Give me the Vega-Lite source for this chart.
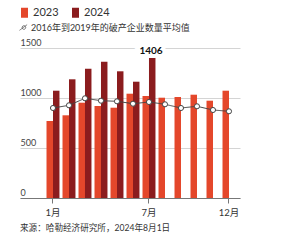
{
  "$schema": "https://vega.github.io/schema/vega-lite/v6.json",
  "autosize": {"type": "none"},
  "padding": {"left": 20, "top": 48, "right": 43, "bottom": 42},
  "width": 220,
  "height": 150,
  "background": "white",
  "config": {
    "view": {"stroke": null},
    "font": "Lato, 'Noto Sans CJK SC', sans-serif",
    "text": {"font": "Lato, 'Noto Sans CJK SC', sans-serif"}
  },
  "title": {
    "text": "来源：哈勒经济研究所，2024年8月1日",
    "orient": "bottom",
    "anchor": "start",
    "frame": "group",
    "offset": 7,
    "fontSize": 8.6,
    "fontWeight": "normal",
    "color": "#333333",
    "font": "Lato, 'Noto Sans CJK SC', sans-serif"
  },
  "datasets": {
    "bars": [
      {"month": "1月", "year": "2023", "value": 770},
      {"month": "1月", "year": "2024", "value": 1073},
      {"month": "2月", "year": "2023", "value": 827},
      {"month": "2月", "year": "2024", "value": 1187},
      {"month": "3月", "year": "2023", "value": 953},
      {"month": "3月", "year": "2024", "value": 1293},
      {"month": "4月", "year": "2023", "value": 920},
      {"month": "4月", "year": "2024", "value": 1363},
      {"month": "5月", "year": "2023", "value": 903},
      {"month": "5月", "year": "2024", "value": 1267},
      {"month": "6月", "year": "2023", "value": 1043},
      {"month": "6月", "year": "2024", "value": 1163},
      {"month": "7月", "year": "2023", "value": 1020},
      {"month": "7月", "year": "2024", "value": 1406},
      {"month": "8月", "year": "2023", "value": 1003},
      {"month": "9月", "year": "2023", "value": 1010},
      {"month": "10月", "year": "2023", "value": 1033},
      {"month": "11月", "year": "2023", "value": 973},
      {"month": "12月", "year": "2023", "value": 1073}
    ],
    "avg": [
      {"month": "1月", "avg": 900, "series": "2016年到2019年的破产企业数量平均值"},
      {"month": "2月", "avg": 927, "series": "2016年到2019年的破产企业数量平均值"},
      {"month": "3月", "avg": 997, "series": "2016年到2019年的破产企业数量平均值"},
      {"month": "4月", "avg": 973, "series": "2016年到2019年的破产企业数量平均值"},
      {"month": "5月", "avg": 967, "series": "2016年到2019年的破产企业数量平均值"},
      {"month": "6月", "avg": 943, "series": "2016年到2019年的破产企业数量平均值"},
      {"month": "7月", "avg": 960, "series": "2016年到2019年的破产企业数量平均值"},
      {"month": "8月", "avg": 937, "series": "2016年到2019年的破产企业数量平均值"},
      {"month": "9月", "avg": 900, "series": "2016年到2019年的破产企业数量平均值"},
      {"month": "10月", "avg": 917, "series": "2016年到2019年的破产企业数量平均值"},
      {"month": "11月", "avg": 880, "series": "2016年到2019年的破产企业数量平均值"},
      {"month": "12月", "avg": 867, "series": "2016年到2019年的破产企业数量平均值"}
    ],
    "label": [
      {"month": "7月", "value": 1406, "text": "1406"}
    ]
  },
  "encoding": {
    "x": {
      "field": "month",
      "type": "ordinal",
      "sort": ["1月","2月","3月","4月","5月","6月","7月","8月","9月","10月","11月","12月"],
      "scale": {"paddingInner": 0.19, "paddingOuter": 0.97, "align": 0.854},
      "axis": {
        "title": null,
        "values": ["1月", "7月", "12月"],
        "labelAngle": 0,
        "domainColor": "#777777",
        "tickColor": "#777777",
        "tickSize": 5,
        "labelPadding": 4,
        "labelFontSize": 9.5,
        "labelColor": "#333333",
        "labelFont": "Lato, 'Noto Sans CJK SC', sans-serif",
        "grid": false
      }
    }
  },
  "layer": [
    {
      "data": {"name": "bars"},
      "mark": {"type": "bar"},
      "encoding": {
        "xOffset": {"field": "year", "type": "nominal", "scale": {"domain": ["2023", "2024"]}},
        "y": {
          "field": "value",
          "type": "quantitative",
          "scale": {"domain": [0, 1500], "nice": false},
          "axis": {
            "title": null,
            "values": [0, 500, 1000, 1500],
            "format": "d",
            "domain": false,
            "ticks": false,
            "tickSize": 0,
            "labelAlign": "left",
            "labelBaseline": "bottom",
            "labelPadding": 0,
            "labelOffset": -1,
            "labelFontSize": 9,
            "labelColor": "#444444",
            "labelFont": "Lato, 'Noto Sans CJK SC', sans-serif",
            "gridColor": "#d4d4d4",
            "gridWidth": 1
          }
        },
        "color": {
          "field": "year",
          "type": "nominal",
          "scale": {"domain": ["2023", "2024"], "range": ["#e4472b", "#8b1c1e"]},
          "legend": {
            "title": null,
            "orient": "none",
            "legendX": -1,
            "legendY": -41,
            "direction": "horizontal",
            "padding": 0,
            "symbolType": "M-0.7,-1H0.7V1H-0.7Z",
            "symbolSize": 100,
            "symbolStrokeWidth": 0,
            "labelOffset": 3,
            "columnPadding": 11,
            "labelFontSize": 11,
            "labelColor": "#333333",
            "labelFont": "Lato, 'Noto Sans CJK SC', sans-serif"
          }
        }
      }
    },
    {
      "data": {"name": "avg"},
      "mark": {"type": "line", "color": "#444444", "strokeWidth": 1},
      "encoding": {
        "y": {"field": "avg", "type": "quantitative"},
        "strokeDash": {
          "field": "series",
          "type": "nominal",
          "scale": {"range": [[1, 0]]},
          "legend": {
            "title": null,
            "orient": "none",
            "legendX": -1,
            "legendY": -25,
            "padding": 0,
            "symbolType": "M-1,0.7L0.9,-0.7M0.55,0A0.45,0.45 0 1,1 -0.35,0A0.45,0.45 0 1,1 0.55,0",
            "symbolSize": 64,
            "symbolStrokeColor": "#555555",
            "symbolFillColor": "white",
            "symbolStrokeWidth": 0.8,
            "symbolDash": [1, 0],
            "labelOffset": 3,
            "labelLimit": 400,
            "labelFontSize": 9,
            "labelColor": "#333333",
            "labelFont": "Lato, 'Noto Sans CJK SC', sans-serif"
          }
        }
      }
    },
    {
      "data": {"name": "avg"},
      "mark": {"type": "point", "filled": true, "fill": "white", "stroke": "#444444", "strokeWidth": 1, "size": 26, "opacity": 1},
      "encoding": {
        "y": {"field": "avg", "type": "quantitative"}
      }
    },
    {
      "data": {"name": "label"},
      "mark": {"type": "text", "dx": 2, "dy": -3, "baseline": "alphabetic", "fontSize": 10, "fontWeight": "bold", "stroke": "white", "strokeWidth": 8, "fill": "white"},
      "encoding": {
        "y": {"field": "value", "type": "quantitative"},
        "text": {"field": "text"}
      }
    },
    {
      "data": {"name": "label"},
      "mark": {"type": "text", "dx": 2, "dy": -3, "baseline": "alphabetic", "fontSize": 10, "fontWeight": "bold", "color": "#111111"},
      "encoding": {
        "y": {"field": "value", "type": "quantitative"},
        "text": {"field": "text"}
      }
    }
  ]
}
